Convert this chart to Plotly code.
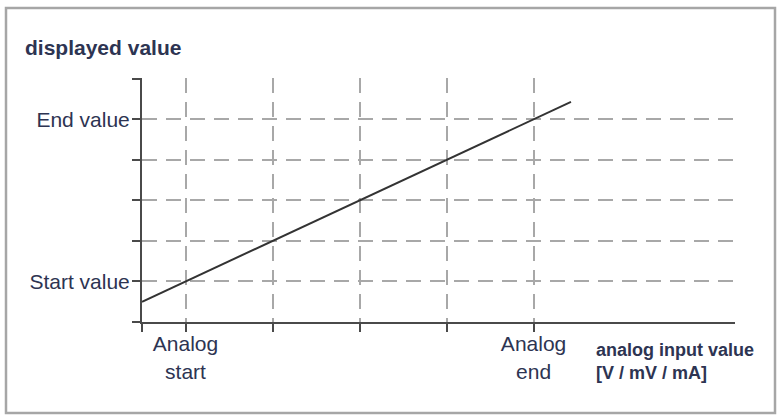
import plotly.graph_objects as go

# Data
input_x = [0, 9.86]
displayed_y = [0.5, 5.43]

x_tick_vals = [0, 1, 3, 5, 7, 9]
x_tick_text = ["", "Analog<br>start", "", "", "", "Analog<br>end"]
x_grid_vals = [1, 3, 5, 7, 9]

y_tick_vals = [0, 1, 2, 3, 4, 5, 6]
y_tick_text = ["", "Start value", "", "", "", "End value", ""]
y_grid_vals = [1, 2, 3, 4, 5]

title_text = "displayed value"
x_title_text = "analog input value<br>[V / mV / mA]"

W, H = 779, 415
L, R, T, B = 142, 44, 78, 93
pw, ph = W - L - R, H - T - B

text_color = "#2d3452"
grid_color = "#a8a8a8"
axis_color = "#4a4a4a"
font_family = "Liberation Sans, Arial, sans-serif"

fig = go.Figure()
fig.add_trace(go.Scatter(
    x=input_x, y=displayed_y, mode="lines",
    line=dict(color="#333333", width=2),
    showlegend=False, hoverinfo="skip",
))
# invisible trace for overlay axis
fig.add_trace(go.Scatter(x=[None], y=[None], yaxis="y2", showlegend=False, hoverinfo="skip"))

fig.update_layout(
    width=W, height=H,
    margin=dict(l=L, r=R, t=T, b=B),
    paper_bgcolor="white", plot_bgcolor="white",
    font=dict(family=font_family, color=text_color, size=21),
    title=dict(
        text="<b>" + title_text + "</b>",
        xref="container", yref="container",
        x=25 / W, xanchor="left",
        y=1 - 48 / H, yanchor="middle",
        font=dict(size=21, color=text_color, family=font_family),
    ),
    xaxis=dict(
        range=[0, 13.63], fixedrange=True, automargin=False,
        tickmode="array", tickvals=x_tick_vals, ticktext=x_tick_text,
        ticks="outside", ticklen=8, tickwidth=1.5, tickcolor=axis_color,
        ticklabelstandoff=-6,
        showgrid=True, gridcolor=grid_color, gridwidth=1.5, griddash="15px,9px",
        showline=True, linecolor=axis_color, linewidth=2, zeroline=False,
        tickfont=dict(size=21, color=text_color),
    ),
    yaxis=dict(
        range=[0, 6.02], fixedrange=True, automargin=False,
        tickmode="array", tickvals=y_grid_vals, showticklabels=False, ticks="",
        showgrid=True, gridcolor=grid_color, gridwidth=1.5, griddash="15px,9px",
        showline=False, zeroline=False,
    ),
    yaxis2=dict(
        overlaying="y", side="left", range=[0, 6.02], fixedrange=True, automargin=False,
        tickmode="array", tickvals=y_tick_vals, ticktext=y_tick_text,
        ticks="outside", ticklen=8, tickwidth=1.5, tickcolor=axis_color,
        ticklabelstandoff=-2,
        showgrid=False, showline=True, linecolor=axis_color, linewidth=2, zeroline=False,
        tickfont=dict(size=21, color=text_color),
    ),
)

fig.add_annotation(
    text="<b>" + x_title_text + "</b>",
    xref="paper", yref="paper",
    x=(594 - L) / pw, y=(322 - 361.5) / ph,
    xanchor="left", yanchor="middle", align="left",
    showarrow=False,
    font=dict(size=18, color=text_color, family=font_family),
)

# outer frame
fig.add_shape(
    type="rect", xref="paper", yref="paper",
    x0=(6 - L) / pw, x1=(775 - L) / pw,
    y0=(322 - 413) / ph, y1=(322 - 8) / ph,
    line=dict(color="#a6a6a6", width=2.5), fillcolor="rgba(0,0,0,0)",
    layer="below",
)

fig.write_html(
    "out.html",
    config={"displayModeBar": False},
    post_script="document.body.style.margin='0';",
)
